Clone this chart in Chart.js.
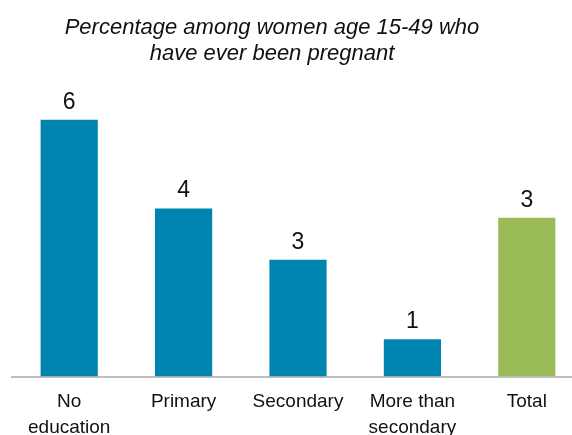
<!DOCTYPE html>
<html>
<head>
<meta charset="utf-8">
<script src="https://cdn.jsdelivr.net/npm/chart.js@4"></script>
<style>
  html, body { margin: 0; padding: 0; background: #fff; overflow: hidden; }
  #wrap { width: 572px; height: 435px; overflow: hidden; }
</style>
</head>
<body>
<div id="wrap"><canvas id="pregChart" width="600" height="440"></canvas></div>
<script>
// Data
const categories = [['No', 'education'], 'Primary', 'Secondary', ['More than', 'secondary'], 'Total'];
const values = [5.5, 3.6, 2.5, 0.8, 3.4];
const shownLabels = ['6', '4', '3', '1', '3'];
const barColors = ['#0085b0', '#0085b0', '#0085b0', '#0085b0', '#9bbb59'];
const titleLines = ['Percentage among women age 15-49 who', 'have ever been pregnant'];

const FONT = '"Liberation Sans", Arial, sans-serif';

// title is drawn by hand so it can sit a bit left of the canvas centre
const titleText = {
    id: 'titleText',
    afterDraw(chart) {
        const ctx = chart.ctx;
        ctx.save();
        ctx.font = 'italic 22px ' + FONT;
        ctx.fillStyle = '#111';
        ctx.textAlign = 'center';
        ctx.textBaseline = 'alphabetic';
        titleLines.forEach((line, i) => {
            ctx.fillText(line, 272, 33.5 + i * 26.7);
        });
        ctx.restore();
    }
};

// draws the number above each bar
const valueLabels = {
    id: 'valueLabels',
    afterDatasetsDraw(chart) {
        const ctx = chart.ctx;
        const meta = chart.getDatasetMeta(0);
        ctx.save();
        ctx.font = '23px ' + FONT;
        ctx.fillStyle = '#111';
        ctx.textAlign = 'center';
        ctx.textBaseline = 'alphabetic';
        meta.data.forEach((bar, i) => {
            ctx.fillText(shownLabels[i], bar.x, bar.y - 11);
        });
        ctx.restore();
    }
};

document.addEventListener('DOMContentLoaded', () => {
    const ctx = document.getElementById('pregChart').getContext('2d');

    new Chart(ctx, {
        type: 'bar',
        data: {
            labels: categories,
            datasets: [{
                data: values,
                backgroundColor: barColors,
                borderWidth: 0,
                categoryPercentage: 0.5,
                barPercentage: 1
            }]
        },
        options: {
            responsive: false,
            animation: false,
            layout: { padding: { left: 12, right: 16, top: 96.3, bottom: 3.5 } },
            plugins: {
                legend: { display: false },
                tooltip: { enabled: false },
                title: { display: false }
            },
            scales: {
                x: {
                    grid: { display: false, drawTicks: false },
                    border: { display: true, color: '#bfbfbf', width: 2 },
                    ticks: {
                        color: '#111',
                        padding: 12,
                        maxRotation: 0,
                        autoSkip: false,
                        font: { family: FONT, size: 19, lineHeight: 1.37 }
                    },
                    afterFit: (s) => { s.height = 60; }
                },
                y: {
                    display: false,
                    min: 0,
                    max: 6
                }
            }
        },
        plugins: [valueLabels, titleText]
    });
});
</script>
</body>
</html>
